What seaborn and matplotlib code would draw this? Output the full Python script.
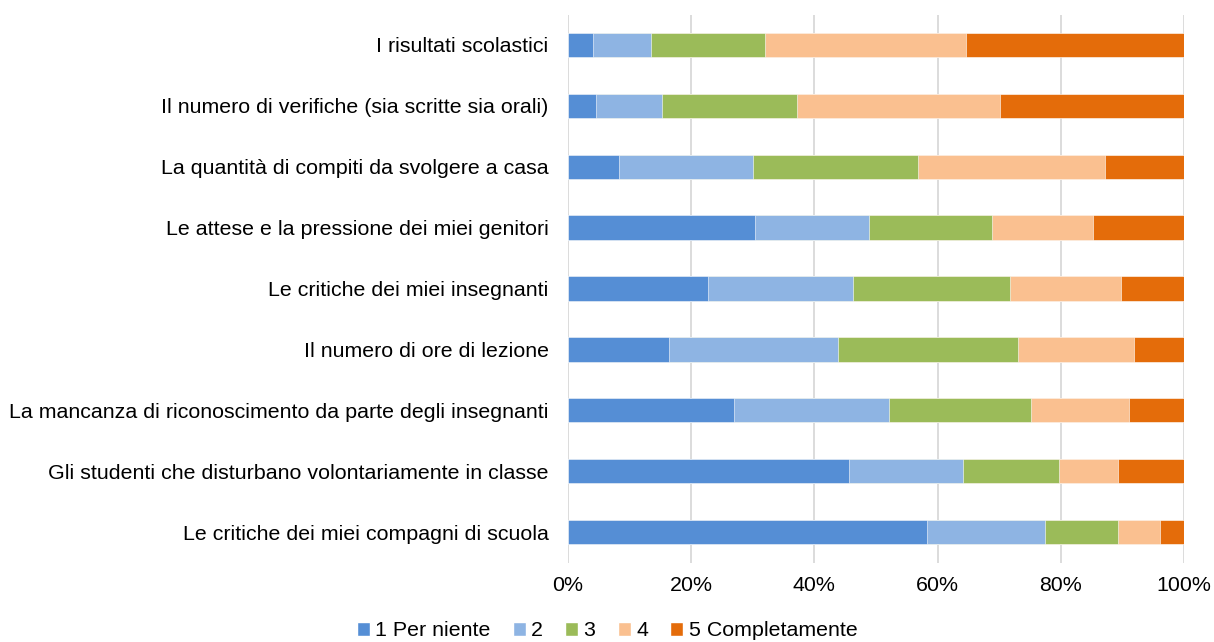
import numpy as np
import pandas as pd
import seaborn as sns
import matplotlib.pyplot as plt
from matplotlib.patches import Patch

categories = [
    "I risultati scolastici",
    "Il numero di verifiche (sia scritte sia orali)",
    "La quantità di compiti da svolgere a casa",
    "Le attese e la pressione dei miei genitori",
    "Le critiche dei miei insegnanti",
    "Il numero di ore di lezione",
    "La mancanza di riconoscimento da parte degli insegnanti",
    "Gli studenti che disturbano volontariamente in classe",
    "Le critiche dei miei compagni di scuola",
]
series = ["1 Per niente", "2", "3", "4", "5 Completamente"]
v1 = [4.1, 4.5, 8.2, 30.4, 22.8, 16.4, 26.9, 45.6, 58.3]
v2 = [9.3, 10.7, 21.9, 18.5, 23.5, 27.5, 25.2, 18.6, 19.2]
v3 = [18.5, 22.0, 26.7, 19.9, 25.4, 29.1, 23.1, 15.5, 11.8]
v4 = [32.7, 32.9, 30.4, 16.5, 18.1, 18.9, 15.8, 9.6, 6.8]
v5 = [35.4, 29.9, 12.8, 14.7, 10.2, 8.1, 9.0, 10.7, 3.9]
colors = ["#558ED5", "#8EB4E3", "#9BBB59", "#FAC090", "#E46C0A"]

sns.set_theme(style="white")
plt.rcParams["font.family"] = ["Liberation Sans", "DejaVu Sans"]
plt.rcParams["text.color"] = "black"
plt.rcParams["xtick.color"] = "black"
plt.rcParams["ytick.color"] = "black"

vals = np.array([v1, v2, v3, v4, v5])
cum = vals.cumsum(axis=0)
cum = cum / cum[-1] * 100  # rows sum to 100%

fig = plt.figure(figsize=(12.14, 6.42), dpi=100)
ax = fig.add_axes([568 / 1214, 1 - 562.5 / 642, 616 / 1214, 548 / 642])

# stacked bars: draw cumulative totals from the longest to the shortest
for k in range(4, -1, -1):
    df = pd.DataFrame({"cat": categories, "val": cum[k]})
    sns.barplot(data=df, x="val", y="cat", color=colors[k], width=0.4,
                orient="h", ax=ax, saturation=1, edgecolor="white", linewidth=0.4)

fs = 15.4
ax.set_xlim(0, 100)
ax.set_xticks(range(0, 101, 20))
ax.set_xticklabels([f"{t}%" for t in range(0, 101, 20)], fontsize=fs)
ax.tick_params(axis="y", labelsize=fs, length=0, pad=14)
ax.tick_params(axis="x", length=0, pad=10)
ax.set_xlabel("")
ax.set_ylabel("")
ax.grid(axis="x", color="#D9D9D9", linewidth=1.3)
ax.set_axisbelow(True)
for s in ax.spines.values():
    s.set_visible(False)

handles = [Patch(facecolor=c, label=s) for c, s in zip(colors, series)]
fig.legend(handles=handles, loc="center", bbox_to_anchor=(0.5, 1 - 631 / 642), ncol=5,
           frameon=False, fontsize=fs, handlelength=0.6, handleheight=0.6,
           handletextpad=0.25, columnspacing=1.05)

fig.savefig("out.png", dpi=100)
